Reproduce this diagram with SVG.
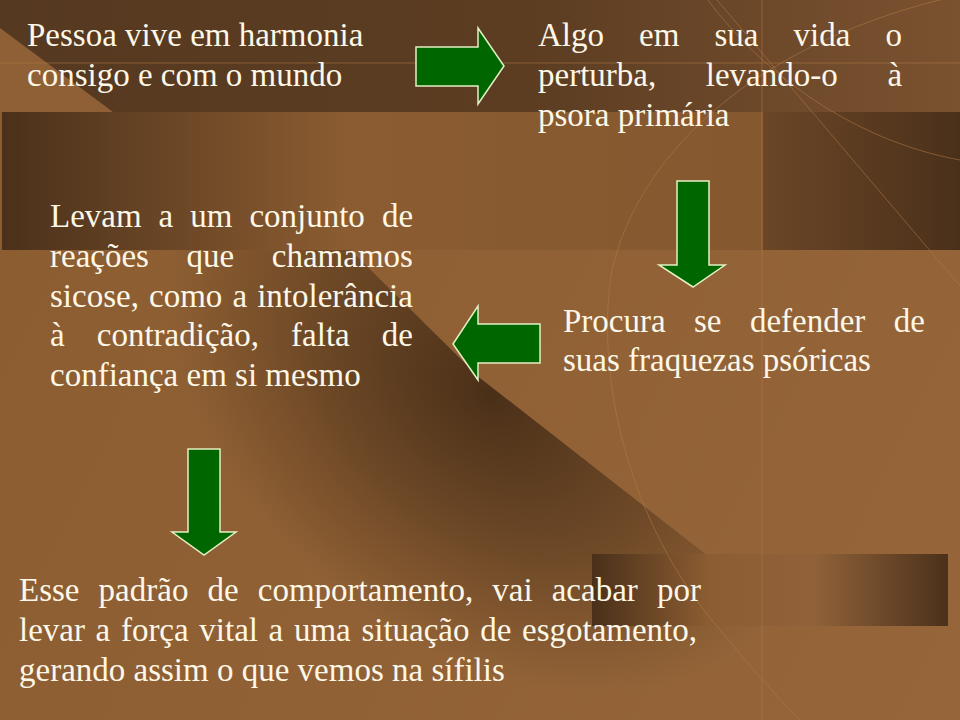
<svg xmlns="http://www.w3.org/2000/svg" width="960" height="720" viewBox="0 0 960 720">
  <style>
    .t { font-family: "Liberation Serif", "Times New Roman", serif; font-size: 33px; fill: #fdf7e7; }
    .arrow { fill: #006600; stroke: #e3efc4; stroke-width: 1.5; stroke-linejoin: miter; }
    .deco { fill: none; stroke: #b07a45; stroke-width: 1; opacity: 0.55; }
  </style>
  <defs>
    <linearGradient id="gTop" gradientUnits="userSpaceOnUse" x1="0" y1="0" x2="960" y2="0">
      <stop offset="0" stop-color="#553920"/>
      <stop offset="0.55" stop-color="#5c3d22"/>
      <stop offset="1" stop-color="#7b5230"/>
    </linearGradient>
    <linearGradient id="gBand" gradientUnits="userSpaceOnUse" x1="2" y1="0" x2="763" y2="0">
      <stop offset="0" stop-color="#4b311b"/>
      <stop offset="0.45" stop-color="#8b5c31"/>
      <stop offset="1" stop-color="#85582f"/>
    </linearGradient>
    <linearGradient id="gBandR" gradientUnits="userSpaceOnUse" x1="763" y1="0" x2="960" y2="0">
      <stop offset="0" stop-color="#6b4627"/>
      <stop offset="1" stop-color="#4a301a"/>
    </linearGradient>
    <linearGradient id="gBase" gradientUnits="userSpaceOnUse" x1="0" y1="250" x2="960" y2="720">
      <stop offset="0" stop-color="#8c5d31"/>
      <stop offset="1" stop-color="#96663a"/>
    </linearGradient>
    <radialGradient id="gShade" gradientUnits="userSpaceOnUse" cx="0" cy="0" r="1" gradientTransform="translate(490 395) rotate(39) scale(360 250)">
      <stop offset="0" stop-color="#3e2713" stop-opacity="0.85"/>
      <stop offset="0.45" stop-color="#3e2713" stop-opacity="0.5"/>
      <stop offset="1" stop-color="#3e2713" stop-opacity="0"/>
    </radialGradient>
    <linearGradient id="gRect" gradientUnits="userSpaceOnUse" x1="592" y1="0" x2="948" y2="0">
      <stop offset="0" stop-color="#4a301a"/>
      <stop offset="0.33" stop-color="#8c5d32"/>
      <stop offset="0.62" stop-color="#91623a"/>
      <stop offset="1" stop-color="#4b311b"/>
    </linearGradient>
  </defs>

  <g id="background">
    <rect x="0" y="0" width="960" height="720" fill="url(#gBase)"/>
    <polygon points="320,220 480,378 713,560 800,632 800,720 0,720 0,220" fill="url(#gShade)"/>
    <rect x="0" y="0" width="960" height="112" fill="url(#gTop)"/>
    <polygon points="0,28 113,112 0,112" fill="#8f6035"/>
    <rect x="0" y="112" width="2" height="138" fill="#8c5d31"/>
    <rect x="2" y="112" width="761" height="138" fill="url(#gBand)"/>
    <rect x="763" y="112" width="197" height="138" fill="url(#gBandR)"/>
    <rect x="592" y="554" width="356" height="72" fill="url(#gRect)"/>
    <line class="deco" x1="0" y1="63" x2="960" y2="63"/>
    <line class="deco" x1="762" y1="0" x2="762" y2="720" opacity="0.35"/>
    <line class="deco" x1="717" y1="0" x2="960" y2="286"/>
    <path class="deco" d="M 960 -5 C 760 40, 640 150, 612 270 C 595 370, 625 520, 720 630 C 745 660, 770 690, 800 720"/>
    <path class="deco" d="M 708 0 C 760 70, 850 140, 960 160"/>
  </g>

  <g id="node-harmonia">
    <text class="t" x="27" y="45.5">Pessoa vive em harmonia</text>
    <text class="t" x="27" y="85.5">consigo e com o mundo</text>
  </g>

  <g id="node-perturba">
    <text class="t" y="45.5"><tspan x="538">Algo</tspan><tspan x="639.1">em</tspan><tspan x="714.5">sua</tspan><tspan x="793.6">vida</tspan><tspan x="885.5">o</tspan></text>
    <text class="t" y="86"><tspan x="538">perturba,</tspan><tspan x="705.8">levando-o</tspan><tspan x="887.4">à</tspan></text>
    <text class="t" x="538" y="126">psora primária</text>
  </g>

  <g id="node-sicose">
    <text class="t" y="226.5"><tspan x="50">Levam</tspan><tspan x="158.6">a</tspan><tspan x="190.2">um</tspan><tspan x="249.4">conjunto</tspan><tspan x="381.9">de</tspan></text>
    <text class="t" y="266.5"><tspan x="50">reações</tspan><tspan x="186.5">que</tspan><tspan x="271.8">chamamos</tspan></text>
    <text class="t" y="306.5"><tspan x="50">sicose,</tspan><tspan x="149">como</tspan><tspan x="232.4">a</tspan><tspan x="257.2">intolerância</tspan></text>
    <text class="t" y="346"><tspan x="50">à</tspan><tspan x="96.8">contradição,</tspan><tspan x="291.1">falta</tspan><tspan x="381.8">de</tspan></text>
    <text class="t" x="50" y="386">confiança em si mesmo</text>
  </g>

  <g id="node-defender">
    <text class="t" y="331.5"><tspan x="563">Procura</tspan><tspan x="694">se</tspan><tspan x="749.9">defender</tspan><tspan x="893.7">de</tspan></text>
    <text class="t" x="563" y="371">suas fraquezas psóricas</text>
  </g>

  <g id="node-sifilis">
    <text class="t" y="601"><tspan x="19">Esse</tspan><tspan x="98.6">padrão</tspan><tspan x="207.5">de</tspan><tspan x="257.8">comportamento,</tspan><tspan x="492.3">vai</tspan><tspan x="551.7">acabar</tspan><tspan x="656.9">por</tspan></text>
    <text class="t" y="641"><tspan x="19">levar</tspan><tspan x="95.6">a</tspan><tspan x="120.9">força</tspan><tspan x="199.3">vital</tspan><tspan x="268.6">a</tspan><tspan x="293.9">uma</tspan><tspan x="361.4">situação</tspan><tspan x="480.2">de</tspan><tspan x="522">esgotamento,</tspan></text>
    <text class="t" x="19" y="681">gerando assim o que vemos na sífilis</text>
  </g>

  <g id="connectors">
    <polygon class="arrow" points="416,47 478,47 478,28 504,66 478,104 478,86 416,86"/>
    <polygon class="arrow" points="677,181 709,181 709,265 725,265 693,287 659,265 677,265"/>
    <polygon class="arrow" points="453,344 478,306 478,324 540,324 540,363 478,363 478,380"/>
    <polygon class="arrow" points="188,449 220,449 220,532 236,532 204,555 172,532 188,532"/>
  </g>
</svg>
